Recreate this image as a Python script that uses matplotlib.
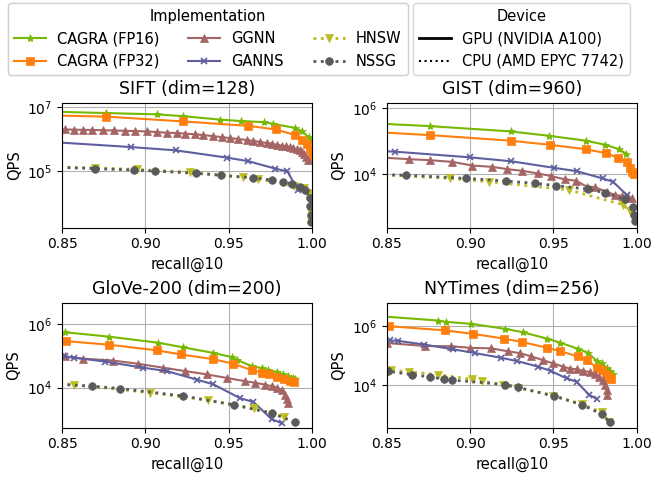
import matplotlib
matplotlib.use("Agg")
import matplotlib.pyplot as plt
from matplotlib.lines import Line2D
from matplotlib.ticker import NullLocator, FixedLocator, LogFormatterSciNotation

# ── SIFT (dim=128) ──────────────────────────────────────────────
sift_fp16_recall = [0.84, 0.8763, 0.9072, 0.9228, 0.9449, 0.9573, 0.9715, 0.9769, 0.9900, 0.9940, 0.9980, 0.9998]
sift_fp16_qps = [7.4e6, 6.6e6, 6.0e6, 5.25e6, 4.1e6, 3.7e6, 3.4e6, 3.0e6, 2.24e6, 1.74e6, 1.15e6, 9.0e5]
sift_fp32_recall = [0.84, 0.8763, 0.9224, 0.9619, 0.9785, 0.9900, 0.9940, 0.9970, 0.9986, 0.9999]
sift_fp32_qps = [5.6e6, 5.1e6, 3.6e6, 2.6e6, 2.0e6, 1.33e6, 9.5e5, 7.1e5, 5.0e5, 2.7e5]
sift_ggnn_recall = [0.845, 0.8516, 0.8570, 0.8626, 0.8682, 0.8747, 0.8811, 0.8877, 0.8937, 0.9007, 0.9067,
                    0.9128, 0.9188, 0.9238, 0.9298, 0.9348, 0.9408, 0.9458, 0.9508, 0.9559, 0.9609, 0.9649,
                    0.9689, 0.9729, 0.9759, 0.9789, 0.9819, 0.9845, 0.9869, 0.9889, 0.9909, 0.9926, 0.9940,
                    0.9954, 0.9966, 0.9974]
sift_ggnn_qps = [2.05e6, 2.0e6, 1.98e6, 1.95e6, 1.93e6, 1.9e6, 1.86e6, 1.82e6, 1.78e6, 1.74e6, 1.66e6,
                 1.58e6, 1.55e6, 1.48e6, 1.41e6, 1.33e6, 1.23e6, 1.15e6, 1.07e6, 1.0e6, 9.3e5, 8.7e5,
                 8.1e5, 7.5e5, 7.1e5, 6.6e5, 6.2e5, 5.9e5, 5.5e5, 5.1e5, 4.8e5, 4.4e5, 3.9e5,
                 3.3e5, 2.75e5, 2.24e5]
sift_ganns_recall = [0.84, 0.8911, 0.9182, 0.9489, 0.9619, 0.9779, 0.9853, 0.9915]
sift_ganns_qps = [8.3e5, 5.6e5, 4.4e5, 2.6e5, 2.0e5, 1.17e5, 9.5e4, 2.5e4]
sift_hnsw_recall = [0.84, 0.8697, 0.8947, 0.9268, 0.9589, 0.9679, 0.9894, 0.9950, 0.9980, 0.9990, 0.9994, 0.9996]
sift_hnsw_qps = [1.32e5, 1.24e5, 1.1e5, 9.1e4, 6.2e4, 5.5e4, 3.2e4, 2.8e4, 1.95e4, 1.2e4, 4.7e3, 2.6e3]
sift_nssg_recall = [0.84, 0.8697, 0.8933, 0.9058, 0.9304, 0.9452, 0.9649, 0.9759, 0.9829, 0.9879, 0.9930,
                    0.9960, 0.9986, 0.9990, 0.9992, 0.9994]
sift_nssg_qps = [1.32e5, 1.17e5, 1.05e5, 9.8e4, 8.3e4, 7.2e4, 6.0e4, 5.1e4, 4.4e4, 3.8e4, 3.0e4,
                 2.5e4, 1.38e4, 7.5e3, 4.1e3, 2.5e3]

# ── GIST (dim=960) ──────────────────────────────────────────────
gist_fp16_recall = [0.84, 0.8757, 0.9244, 0.9472, 0.9695, 0.9811, 0.9891, 0.9936]
gist_fp16_qps = [3.55e5, 2.9e5, 2.0e5, 1.48e5, 1.05e5, 7.9e4, 5.9e4, 4.3e4]
gist_fp32_recall = [0.84, 0.8757, 0.9244, 0.9478, 0.9695, 0.9815, 0.9889, 0.9940, 0.9960, 0.9974, 0.9984]
gist_fp32_qps = [1.95e5, 1.55e5, 1.05e5, 7.9e4, 5.8e4, 4.4e4, 3.2e4, 2.4e4, 1.62e4, 1.2e4, 1.0e4]
gist_ggnn_recall = [0.84, 0.8632, 0.8757, 0.8893, 0.9013, 0.9132, 0.9222, 0.9312, 0.9408, 0.9488, 0.9569,
                    0.9635, 0.9699, 0.9749, 0.9819, 0.9869, 0.9909, 0.9950, 0.9970]
gist_ggnn_qps = [3.4e4, 2.9e4, 2.7e4, 2.4e4, 1.86e4, 1.7e4, 1.45e4, 1.29e4, 1.07e4, 8.9e3, 7.1e3,
                 6.5e3, 4.3e3, 4.1e3, 3.0e3, 2.4e3, 2.24e3, 2.04e3, 1.9e3]
gist_ganns_recall = [0.84, 0.8546, 0.8997, 0.9248, 0.9505, 0.9639, 0.9795, 0.9859, 0.9940]
gist_ganns_qps = [5.2e4, 4.9e4, 3.3e4, 2.5e4, 1.58e4, 1.26e4, 7.6e3, 6.0e3, 2.4e3]
gist_hnsw_recall = [0.84, 0.8877, 0.9114, 0.9595, 0.9920, 0.9960, 0.9984]
gist_hnsw_qps = [1.02e4, 7.6e3, 6.0e3, 3.4e3, 1.2e3, 760, 540]
gist_nssg_recall = [0.84, 0.8616, 0.8977, 0.9218, 0.9388, 0.9515, 0.9709, 0.9809, 0.9930, 0.9976, 0.9986, 0.9990]
gist_nssg_qps = [1.0e4, 9.5e3, 7.6e3, 6.3e3, 5.4e3, 4.6e3, 3.6e3, 2.8e3, 1.78e3, 1.02e3, 600, 380]

# ── GloVe-200 (dim=200) ─────────────────────────────────────────
glove_fp16_recall = [0.8520, 0.8783, 0.9073, 0.9224, 0.9408, 0.9519, 0.9549, 0.9639, 0.9699, 0.9739,
                     0.9789, 0.9829, 0.9859, 0.9889, 0.9899]
glove_fp16_qps = [5.5e5, 4.0e5, 2.6e5, 1.86e5, 1.23e5, 9.1e4, 7.5e4, 4.7e4, 4.1e4, 3.6e4,
                  3.1e4, 2.6e4, 2.24e4, 2.0e4, 1.86e4]
glove_fp32_recall = [0.8522, 0.8779, 0.9071, 0.9214, 0.9408, 0.9529, 0.9639, 0.9699, 0.9745, 0.9789,
                     0.9833, 0.9869, 0.9893]
glove_fp32_qps = [2.9e5, 2.24e5, 1.48e5, 1.1e5, 7.8e4, 5.6e4, 3.5e4, 2.95e4, 2.6e4, 2.14e4,
                  1.82e4, 1.62e4, 1.48e4]
glove_ggnn_recall = [0.8520, 0.8626, 0.8803, 0.8957, 0.9108, 0.9238, 0.9368, 0.9489, 0.9599, 0.9659,
                     0.9719, 0.9759, 0.9789, 0.9819, 0.9839, 0.9853, 0.9859]
glove_ggnn_qps = [9.5e4, 8.1e4, 7.1e4, 5.6e4, 4.2e4, 3.3e4, 2.6e4, 2.0e4, 1.58e4, 1.41e4,
                  1.23e4, 1.1e4, 1.0e4, 8.3e3, 6.0e3, 4.2e3, 3.3e3]
glove_ganns_recall = [0.8520, 0.8570, 0.8757, 0.8987, 0.9128, 0.9308, 0.9408, 0.9569, 0.9649, 0.9759, 0.9819]
glove_ganns_qps = [9.5e4, 8.7e4, 6.6e4, 4.2e4, 3.3e4, 1.78e4, 1.26e4, 4.6e3, 3.5e3, 1.0e3, 750]
glove_hnsw_recall = [0.84, 0.8570, 0.9027, 0.9378, 0.9655, 0.9833]
glove_hnsw_qps = [1.58e4, 1.23e4, 6.9e3, 4.0e3, 2.2e3, 1.2e3]
glove_nssg_recall = [0.84, 0.8682, 0.8847, 0.9228, 0.9535, 0.9759, 0.9900]
glove_nssg_qps = [1.32e4, 1.1e4, 9.3e3, 5.4e3, 2.8e3, 1.55e3, 800]

# ── NYTimes (dim=256) ───────────────────────────────────────────
nyt_fp16_recall = [0.84, 0.8807, 0.8853, 0.9007, 0.9212, 0.9318, 0.9462, 0.9539, 0.9645, 0.9705,
                   0.9759, 0.9789, 0.9819, 0.9839, 0.9855]
nyt_fp16_qps = [2.3e6, 1.55e6, 1.4e6, 1.2e6, 8.1e5, 6.2e5, 3.8e5, 2.8e5, 1.74e5, 1.29e5,
                6.8e4, 5.5e4, 4.0e4, 3.1e4, 2.4e4]
nyt_fp32_recall = [0.84, 0.8510, 0.8851, 0.9017, 0.9204, 0.9314, 0.9462, 0.9539, 0.9645, 0.9703,
                   0.9759, 0.9789, 0.9815, 0.9835, 0.9846]
nyt_fp32_qps = [1.07e6, 1.0e6, 7.2e5, 5.5e5, 3.8e5, 2.9e5, 1.86e5, 1.45e5, 9.5e4, 7.1e4,
                4.0e4, 3.2e4, 2.5e4, 1.95e4, 1.66e4]
nyt_ggnn_recall = [0.84, 0.8500, 0.8727, 0.8887, 0.8997, 0.9128, 0.9228, 0.9298, 0.9368, 0.9438, 0.9499,
                   0.9559, 0.9599, 0.9639, 0.9679, 0.9719, 0.9749, 0.9775, 0.9795, 0.9809, 0.9819, 0.9823]
nyt_ggnn_qps = [2.95e5, 2.7e5, 2.14e5, 2.1e5, 1.86e5, 1.78e5, 1.41e5, 1.23e5, 9.5e4, 7.1e4, 5.5e4,
                4.3e4, 3.7e4, 3.5e4, 3.1e4, 2.8e4, 2.4e4, 1.95e4, 1.51e4, 1.02e4, 6.9e3, 4.8e3]
nyt_ganns_recall = [0.8516, 0.8566, 0.8723, 0.8897, 0.9027, 0.9188, 0.9284, 0.9408, 0.9483, 0.9579,
                    0.9639, 0.9715, 0.9759]
nyt_ganns_qps = [3.3e5, 3.2e5, 2.4e5, 1.66e5, 1.24e5, 8.5e4, 6.6e4, 4.3e4, 3.1e4, 1.72e4,
                 1.32e4, 4.8e3, 3.5e3]
nyt_hnsw_recall = [0.84, 0.8526, 0.8632, 0.8807, 0.9011, 0.9073, 0.9198, 0.9288, 0.9499, 0.9673, 0.9789, 0.9835]
nyt_hnsw_qps = [3.5e4, 3.2e4, 2.9e4, 2.3e4, 1.62e4, 1.4e4, 1.02e4, 8.3e3, 4.5e3, 2.3e3, 1.23e3, 600]
nyt_nssg_recall = [0.84, 0.8506, 0.8650, 0.8757, 0.8843, 0.8891, 0.9212, 0.9288, 0.9503, 0.9673, 0.9789, 0.9839]
nyt_nssg_qps = [3.4e4, 3.0e4, 2.3e4, 1.95e4, 1.62e4, 1.51e4, 1.07e4, 8.5e3, 4.4e3, 2.2e3, 1.07e3, 560]

DATASETS = ["SIFT (dim=128)", "GIST (dim=960)", "GloVe-200 (dim=200)", "NYTimes (dim=256)"]
Y_LIMITS = [(1.6e3, 1.4e7), (245, 1.48e6), (540, 4.7e6), (370, 6.2e6)]
Y_TICKS = [[1e5, 1e7], [1e4, 1e6], [1e4, 1e6], [1e4, 1e6]]

# implementation -> (label, colour, marker, markersize, linestyle)
STYLES = [
    ("CAGRA (FP16)", "#76b900", "*", 6, "-"),
    ("CAGRA (FP32)", "#ff7f0e", "s", 5.5, "-"),
    ("GGNN", "#a56565", "^", 5.5, "-"),
    ("GANNS", "#5f5f9f", "x", 4.5, "-"),
    ("HNSW", "#bcbd22", "v", 5.5, ":"),
    ("NSSG", "#5a5a5a", "o", 5.5, ":"),
]

CURVES = [
    [(sift_fp16_recall, sift_fp16_qps), (sift_fp32_recall, sift_fp32_qps), (sift_ggnn_recall, sift_ggnn_qps),
     (sift_ganns_recall, sift_ganns_qps), (sift_hnsw_recall, sift_hnsw_qps), (sift_nssg_recall, sift_nssg_qps)],
    [(gist_fp16_recall, gist_fp16_qps), (gist_fp32_recall, gist_fp32_qps), (gist_ggnn_recall, gist_ggnn_qps),
     (gist_ganns_recall, gist_ganns_qps), (gist_hnsw_recall, gist_hnsw_qps), (gist_nssg_recall, gist_nssg_qps)],
    [(glove_fp16_recall, glove_fp16_qps), (glove_fp32_recall, glove_fp32_qps), (glove_ggnn_recall, glove_ggnn_qps),
     (glove_ganns_recall, glove_ganns_qps), (glove_hnsw_recall, glove_hnsw_qps), (glove_nssg_recall, glove_nssg_qps)],
    [(nyt_fp16_recall, nyt_fp16_qps), (nyt_fp32_recall, nyt_fp32_qps), (nyt_ggnn_recall, nyt_ggnn_qps),
     (nyt_ganns_recall, nyt_ganns_qps), (nyt_hnsw_recall, nyt_hnsw_qps), (nyt_nssg_recall, nyt_nssg_qps)],
]

plt.rcParams["font.size"] = 10.5
plt.rcParams["xtick.labelsize"] = 10
plt.rcParams["ytick.labelsize"] = 10


def line_kwargs(color, marker, ms, ls):
    return dict(color=color, marker=marker, markersize=ms, linestyle=ls,
                linewidth=1.5 if ls == "-" else 2.0,
                markeredgewidth=1.2 if marker == "x" else 0.5)


fig, axes = plt.subplots(2, 2, figsize=(6.54, 4.79), dpi=100)
fig.subplots_adjust(left=0.095, right=0.9735, bottom=0.107, top=0.7856, wspace=0.3, hspace=0.6)

for ax, title, curves, ylim, yticks in zip(axes.flat, DATASETS, CURVES, Y_LIMITS, Y_TICKS):
    for (recall, qps), (label, color, marker, ms, ls) in zip(curves, STYLES):
        ax.plot(recall, qps, **line_kwargs(color, marker, ms, ls))
    ax.set_yscale("log")
    ax.set_xlim(0.85, 1.0)
    ax.set_ylim(*ylim)
    ax.yaxis.set_major_locator(FixedLocator(yticks))
    ax.yaxis.set_major_formatter(LogFormatterSciNotation())
    ax.yaxis.set_minor_locator(NullLocator())
    ax.set_xticks([0.85, 0.90, 0.95, 1.00])
    ax.set_xticklabels(["0.85", "0.90", "0.95", "1.00"])
    ax.grid(True, color="#b0b0b0", linewidth=0.8)
    ax.set_axisbelow(True)
    ax.set_title(title, fontsize=12.5)
    ax.set_xlabel("recall@10")
    ax.set_ylabel("QPS")

legend_opts = dict(loc="upper left", fontsize=10.5, title_fontsize=10.5, borderaxespad=0,
                   handlelength=2.2, handletextpad=0.75, columnspacing=2.0)

impl_handles = [Line2D([], [], **line_kwargs(c, m, ms, ls)) for _, c, m, ms, ls in STYLES]
impl_labels = [s[0] for s in STYLES]
leg1 = fig.legend(impl_handles, impl_labels, title="Implementation", ncol=3,
                  bbox_to_anchor=(0.0122, 0.993), **legend_opts)

dev_handles = [Line2D([], [], color="black", linestyle="-", linewidth=2.0),
               Line2D([], [], color="black", linestyle=":", linewidth=1.5)]
fig.legend(dev_handles, ["GPU (NVIDIA A100)", "CPU (AMD EPYC 7742)"], title="Device",
           bbox_to_anchor=(0.6315, 0.993), **legend_opts)
fig.add_artist(leg1)

fig.savefig("out.png", dpi=100)
